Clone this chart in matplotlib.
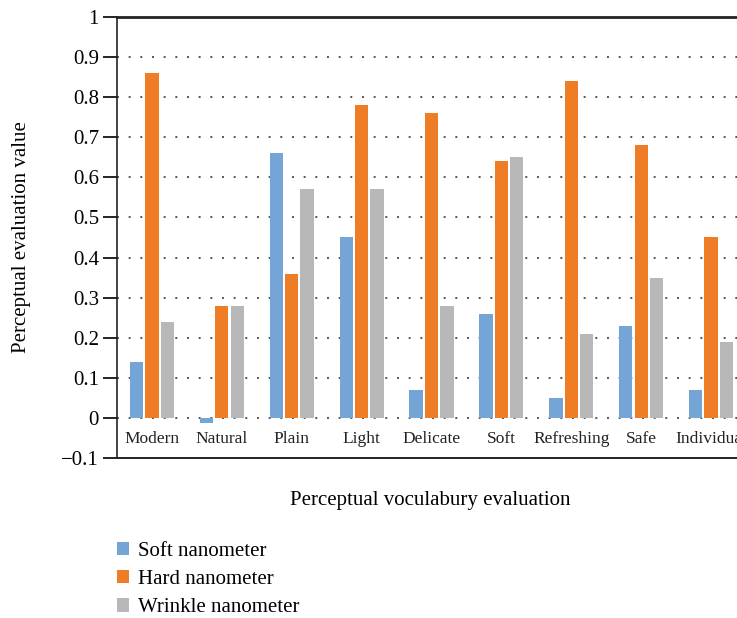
import matplotlib
matplotlib.use("Agg")
import matplotlib.pyplot as plt
from matplotlib.patches import Patch
import numpy as np

categories = ["Modern", "Natural", "Plain", "Light", "Delicate",
              "Soft", "Refreshing", "Safe", "Individual"]
soft_nano = [0.14, -0.012, 0.66, 0.45, 0.07, 0.26, 0.05, 0.23, 0.07]
hard_nano = [0.86, 0.28, 0.36, 0.78, 0.76, 0.64, 0.84, 0.68, 0.45]
wrinkle_nano = [0.24, 0.28, 0.57, 0.57, 0.28, 0.65, 0.21, 0.35, 0.19]
series_names = ["Soft nanometer", "Hard nanometer", "Wrinkle nanometer"]
colors = ["#75A5D7", "#EE7D25", "#B8B8B8"]

plt.rcParams['font.family'] = ['Liberation Serif', 'DejaVu Serif']

W, H = 737, 618
fig = plt.figure(figsize=(W / 100, H / 100), dpi=100)
# axes runs slightly past the right edge, like the cropped original
ax = fig.add_axes([117 / W, 1 - 458 / H, 629 / W, 441 / H])

x = np.arange(len(categories))
bw = 0.19
step = 0.22
for k, (vals, c) in enumerate(zip([soft_nano, hard_nano, wrinkle_nano], colors)):
    ax.bar(x + (k - 1) * step, vals, width=bw, color=c, zorder=3)

ax.set_xlim(-0.5, len(categories) - 0.5)
ax.set_ylim(-0.1, 1.0)
yt = np.round(np.arange(-0.1, 1.01, 0.1), 1)
ax.set_yticks(yt)
ax.set_yticklabels(["\u22120.1", "0"] + [f"{v:.1f}" for v in yt[2:-1]] + ["1"], fontsize=15)
ax.tick_params(axis='y', length=10, width=1.2, pad=3, direction='out')
ax.set_xticks([])

for v in yt[1:-1]:
    ax.axhline(v, color='#555555', linestyle=(0, (1, 5)), linewidth=1.4, zorder=1)

for i, cat in enumerate(categories):
    ax.text(i, -0.052, cat, ha='center', va='center', fontsize=12.5, color='#222222')

ax.spines['right'].set_visible(False)
ax.spines['left'].set_linewidth(1.2)
ax.spines['bottom'].set_linewidth(1.4)
ax.spines['top'].set_linewidth(2)
for s in ax.spines.values():
    s.set_color('#222222')

ax.set_ylabel("Perceptual evaluation value", fontsize=15, labelpad=22)
fig.text(430 / W, 1 - 500 / H, "Perceptual voculabury evaluation",
         ha='center', va='center', fontsize=15)

handles = [Patch(facecolor=c) for c in colors]
fig.legend(handles, series_names, loc='upper left', bbox_to_anchor=(100 / W, 1 - 525 / H),
           frameon=False, fontsize=15, handlelength=0.6, handleheight=0.6,
           handletextpad=0.4, labelspacing=0.45, borderpad=0.3)

fig.savefig("out.png", dpi=100)
